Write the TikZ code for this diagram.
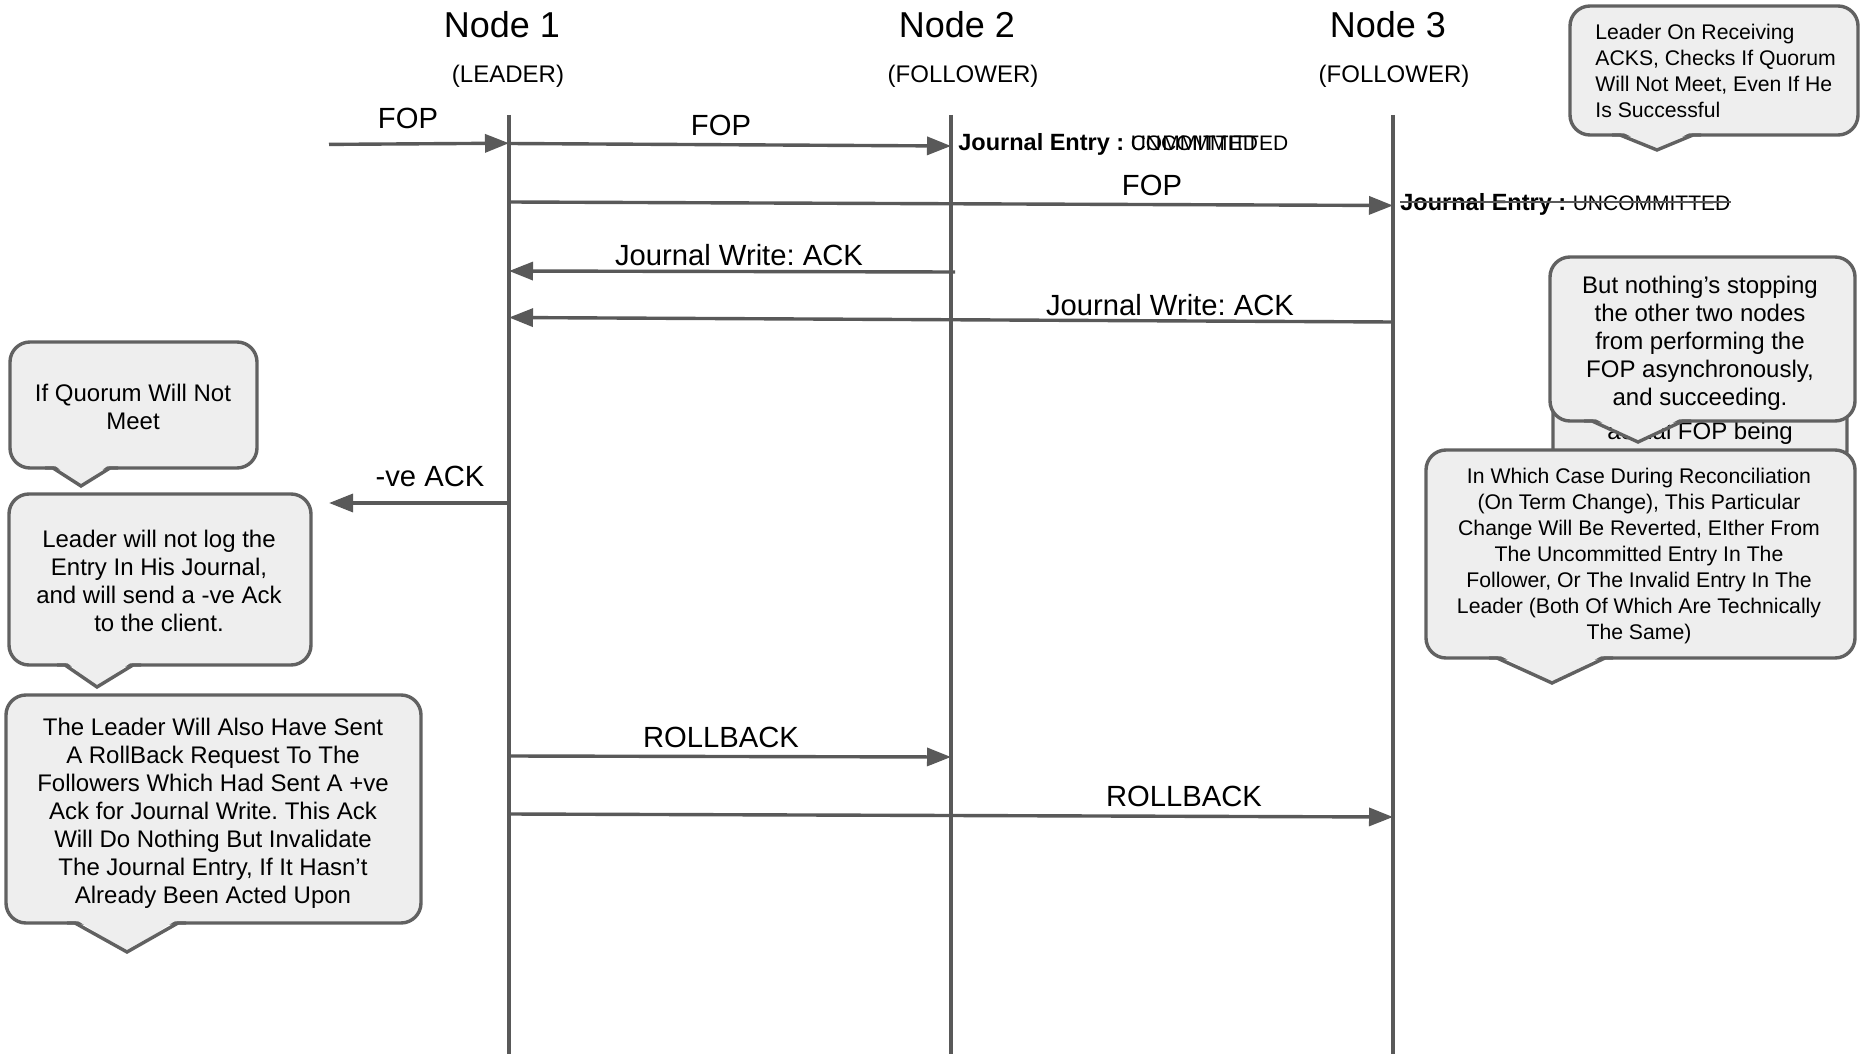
\documentclass[tikz,border=0pt]{standalone}
\usepackage{fontspec}
\setmainfont{Liberation Sans}
\usetikzlibrary{arrows.meta}
\definecolor{linegray}{HTML}{595959}
\definecolor{bubfill}{HTML}{EEEEEE}
\definecolor{bubdraw}{HTML}{616161}
\frenchspacing
\newcommand{\mycallout}[8]{%
  \draw[bubble] (#1,#2) rectangle (#3,#4);
  \fill[bubcover] (#5,#4-4) -- (#6,#8) -- (#7,#4-4) -- cycle;
  \draw[bubedge] (#5-8,#4) -- (#5,#4) -- (#6,#8) -- (#7,#4) -- (#7+8,#4);
}
\begin{document}
\begin{tikzpicture}[x=0.5pt,y=-0.5pt,
  lifeline/.style={draw=linegray, line width=1.6pt},
  msg/.style={draw=linegray, line width=1.7pt, -{Triangle[length=12pt,width=9pt]}},
  hdr/.style={font=\fontsize{18}{20}\selectfont, anchor=base, inner sep=0},
  role/.style={font=\fontsize{12}{14}\selectfont, anchor=base, inner sep=0},
  lbl/.style={font=\fontsize{14.6}{16}\selectfont, anchor=base, inner sep=0},
  bubble/.style={draw=bubdraw, fill=bubfill, line width=1.7pt, rounded corners=10pt},
  bubcover/.style={fill=bubfill},
  bubedge/.style={draw=bubdraw, line width=1.7pt, line join=miter},
  btext/.style={font=\fontsize{12}{14}\selectfont, align=center, anchor=north, inner sep=0},
  stext/.style={font=\fontsize{10.6}{13}\selectfont, align=center, anchor=north, inner sep=0},
  je/.style={anchor=base west, inner sep=0, font=\fontsize{11.75}{13}\selectfont},
  strike/.style={draw=linegray, line width=0.9pt},
]
\useasboundingbox[fill=white] (0,0) rectangle (1864,1054);

% headers
\node[hdr] (n1) at (502,38) {Node 1};
\node[hdr] (n2) at (957,38) {Node 2};
\node[hdr] (n3) at (1388,38) {Node 3};
\node[role] (r1) at (508,83) {(LEADER)};
\node[role] (r2) at (963,83) {(FOLLOWER)};
\node[role] (r3) at (1394,83) {(FOLLOWER)};

% lifelines
\coordinate (l1t) at (509,115); \coordinate (l1b) at (509,1054);
\coordinate (l2t) at (951,115); \coordinate (l2b) at (951,1054);
\coordinate (l3t) at (1393,115); \coordinate (l3b) at (1393,1054);
\draw[lifeline] (l1t) -- (l1b);
\draw[lifeline] (l2t) -- (l2b);
\draw[lifeline] (l3t) -- (l3b);

% message end points
\coordinate (cin) at (329,144.4);  \coordinate (m1b) at (509,143.2);
\coordinate (m2a) at (509,143.5);  \coordinate (m2b) at (951,146);
\coordinate (m3a) at (509,202);    \coordinate (m3b) at (1393,205.5);
\coordinate (m4a) at (955,272);    \coordinate (m4b) at (509,271);
\coordinate (m5a) at (1393,322);   \coordinate (m5b) at (509,317.5);
\coordinate (m6a) at (509,503);    \coordinate (cout) at (329,503);
\coordinate (m7a) at (509,756);    \coordinate (m7b) at (951,757);
\coordinate (m8a) at (509,814);    \coordinate (m8b) at (1393,817);

\draw[msg] (cin) -- (m1b);
\draw[msg] (m2a) -- (m2b);
\draw[msg] (m3a) -- (m3b);
\draw[msg] (m4a) -- (m4b);
\draw[msg] (m5a) -- (m5b);
\draw[msg] (m6a) -- (cout);
\draw[msg] (m7a) -- (m7b);
\draw[msg] (m8a) -- (m8b);

% labels
\node[lbl] (t1) at (408,129) {FOP};
\node[lbl] (t2) at (721,136) {FOP};
\node[lbl] (t3) at (1152,195) {FOP};
\node[lbl] (t4) at (739,265) {Journal Write: ACK};
\node[lbl] (t5) at (1170,315) {Journal Write: ACK};
\node[lbl] (t6) at (430,486) {-ve ACK};
\node[lbl] (t7) at (721,747) {ROLLBACK};
\node[lbl] (t8) at (1184,806) {ROLLBACK};

% journal entries
\node[je] (je2) at (958,151) {\textbf{Journal Entry :} {\fontsize{10.5}{12}\selectfont\rlap{COMMITTED}UNCOMMITTED}};
\node[je] (je3) at (1400,210) {\textbf{Journal Entry :} {\fontsize{10.5}{12}\selectfont UNCOMMITTED}};
\draw[strike] ([yshift=4pt]je3.base west) -- ([yshift=4pt]je3.base east);

% callouts
\mycallout{1570}{6}{1858}{135}{1620}{1657}{1693}{150}
\node[stext, align=left, anchor=north west] (ca) at (1595,23.7) {Leader On Receiving\\ACKS, Checks If Quorum\\Will Not Meet, Even If He\\Is Successful};

\mycallout{10}{342}{257}{468}{53}{81}{110}{486}
\node[btext] (cb) at (133,383.7) {If Quorum Will Not\\Meet};

\mycallout{9}{494}{311}{665}{65}{97}{133}{687}
\node[btext] (cc) at (159,529.7) {Leader will not log the\\Entry In His Journal,\\and will send a -ve Ack\\to the client.};

\mycallout{6}{695}{421}{923}{75}{127}{178}{952}
\node[btext] (cd) at (213,717.7) {The Leader Will Also Have Sent\\A RollBack Request To The\\Followers Which Had Sent A +ve\\Ack for Journal Write. This Ack\\Will Do Nothing But Invalidate\\The Journal Entry, If It Hasn’t\\Already Been Acted Upon};

\draw[bubble] (1553,300) rectangle (1847,470);
\node[btext] (cbg) at (1700,421.7) {actual FOP being};

\mycallout{1550}{257}{1855}{421}{1592}{1638}{1683}{442}
\node[btext] (ce) at (1700,275.4) {But nothing’s stopping\\the other two nodes\\from performing the\\FOP asynchronously,\\and succeeding.};

\mycallout{1426}{450}{1855}{658}{1497}{1552}{1605}{683}
\node[stext] (cf) at (1639,467.7) {In Which Case During Reconciliation\\(On Term Change), This Particular\\Change Will Be Reverted, EIther From\\The Uncommitted Entry In The\\Follower, Or The Invalid Entry In The\\Leader (Both Of Which Are Technically\\The Same)};
\end{tikzpicture}
\end{document}
